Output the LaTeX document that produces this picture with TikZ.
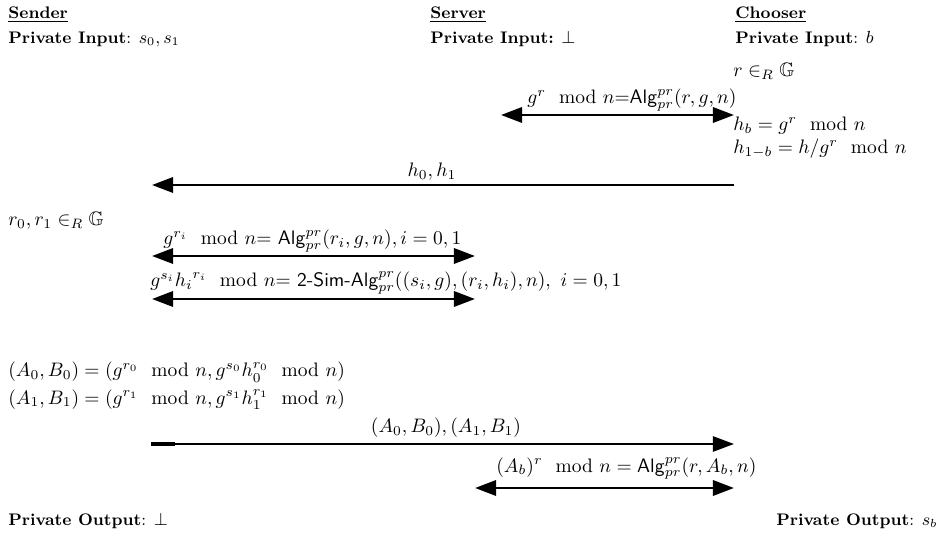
\documentclass[tikz,border=0pt]{standalone}
\usepackage{amsmath,amssymb}
\usetikzlibrary{arrows.meta}
\begin{document}
\begin{tikzpicture}[x=0.513pt,y=-0.513pt,
  txt/.style={inner sep=0pt,anchor=base west},
  hdr/.style={inner sep=0pt,anchor=base west,font=\fontsize{8.6pt}{10pt}\selectfont},
  tip/.tip={Triangle[length=10.8pt,width=7.8pt]},
  msg/.style={line width=1.4pt,-tip},
  dmsg/.style={line width=1.4pt,tip-tip}]
\useasboundingbox (0,0) rectangle (946,536);
% headers
\node[hdr] (sname) at (8,19) {\underline{\textbf{Sender}}};
\node[hdr] (sin) at (8,44) {\textbf{Private Input}: $s_0,s_1$};
\node[hdr] (vname) at (430,19) {\underline{\textbf{Server}}};
\node[hdr] (vin) at (430,44) {\textbf{Private Input:} $\bot$};
\node[hdr] (cname) at (735,19) {\underline{\textbf{Chooser}}};
\node[hdr] (cin) at (735,44) {\textbf{Private Input}: $b$};
% chooser computations
\node[txt] (cr) at (733,77) {$r\in_R\mathbb{G}$};
\node[txt] (chb) at (733,131) {$h_b=g^r\mod n$};
\node[txt] (ch1b) at (733,154) {$h_{1-b}=h/g^r\mod n$};
% arrow 1
\coordinate (a1l) at (501,115);
\coordinate (a1r) at (734,115);
\draw[dmsg] (a1l) -- (a1r);
\node[txt] (l1) at (527,104) {$g^r\mod n{=}\mathsf{Alg}^{pr}_{pr}(r,g,n)$};
% arrow 2
\coordinate (a2r) at (734,185);
\coordinate (a2l) at (152,185);
\draw[msg] (a2r) -- (a2l);
\node[inner sep=0pt,anchor=base] (l2) at (432,177) {$h_0,h_1$};
% sender randomness
\node[txt] (sr) at (8,226) {$r_0,r_1\in_R\mathbb{G}$};
% arrow 3
\coordinate (a3l) at (152,256);
\coordinate (a3r) at (475,256);
\draw[dmsg] (a3l) -- (a3r);
\node[txt] (l3) at (163,245) {$g^{r_i}\mod n{=}\ \mathsf{Alg}^{pr}_{pr}(r_i,g,n),i=0,1$};
% arrow 4
\coordinate (a4l) at (152,299);
\coordinate (a4r) at (475,299);
\draw[dmsg] (a4l) -- (a4r);
\node[txt] (l4) at (150,287) {$g^{s_i}{h_i}^{r_i}\mod n{=}\ \textsf{2-Sim-Alg}^{pr}_{pr}((s_i,g),(r_i,h_i),n),\ i=0,1$};
% sender computations
\node[txt] (sa0) at (8,377) {$(A_0,B_0)=(g^{r_0}\mod n,g^{s_0}h_0^{r_0}\mod n)$};
\node[txt] (sa1) at (8,404) {$(A_1,B_1)=(g^{r_1}\mod n,g^{s_1}h_1^{r_1}\mod n)$};
% arrow 5
\coordinate (a5l) at (151,444);
\coordinate (a5r) at (734,444);
\draw[msg,line width=1pt] (a5l) -- (a5r);
\draw[line width=1.6pt] (a5l) -- (175,444);
\node[inner sep=0pt,anchor=base] (l5) at (446,433) {$(A_0,B_0),(A_1,B_1)$};
% arrow 6
\coordinate (a6l) at (475,488);
\coordinate (a6r) at (734,488);
\draw[dmsg] (a6l) -- (a6r);
\node[txt] (l6) at (496,472) {$(A_b)^r\mod n=\mathsf{Alg}^{pr}_{pr}(r,A_b,n)$};
% outputs
\node[hdr] (so) at (8,525) {\textbf{Private Output}: $\bot$};
\node[hdr,anchor=base east] (co) at (938,525) {\textbf{Private Output}: $s_b$};
\end{tikzpicture}
\end{document}
